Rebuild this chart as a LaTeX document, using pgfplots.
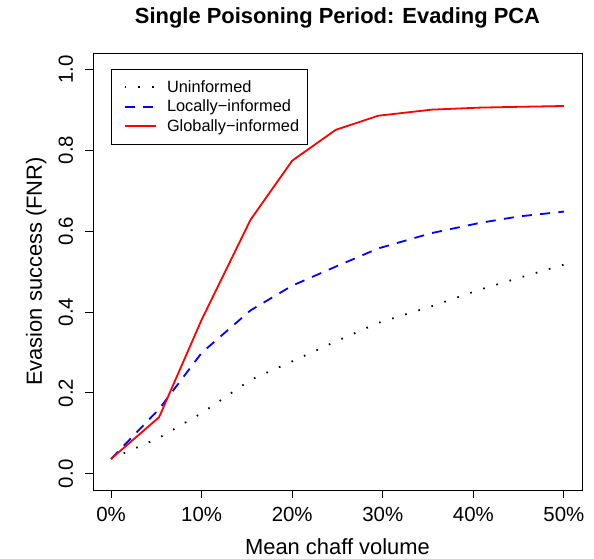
\documentclass[border=0pt]{standalone}
\usepackage{pgfplots}
\pgfplotsset{compat=1.18}
\usepackage{fontspec}
\setmainfont{Liberation Sans}

\begin{document}
\begin{tikzpicture}
\useasboundingbox (-93bp,-69bp) rectangle (501bp,490bp);
\begin{axis}[
    scale only axis,
    width=489bp, height=437bp,
    xmin=-2, xmax=52, ymin=-0.04, ymax=1.04,
    xtick={0,10,20,30,40,50},
    xticklabels={0\%,10\%,20\%,30\%,40\%,50\%},
    ytick={0,0.2,0.4,0.6,0.8,1.0},
    yticklabels={0.0,0.2,0.4,0.6,0.8,1.0},
    tick align=outside,
    major tick length=8bp,
    tick style={black, line width=0.9bp},
    axis line style={line width=0.9bp},
    xtick pos=bottom, ytick pos=left,
    ticklabel style={font=\fontsize{20.5}{24}\selectfont},
    xticklabel style={anchor=base, yshift=-23bp},
    yticklabel style={anchor=base, xshift=-12bp, rotate=90},
    title={Single Poisoning Period: Evading PCA},
    title style={font=\fontsize{22}{26}\selectfont\bfseries, at={(0.5,1)}, anchor=base, yshift=24bp},
    xlabel={Mean chaff volume},
    xlabel style={font=\fontsize{22}{26}\selectfont, at={(axis description cs:0.5,0)}, anchor=base, yshift=-64bp},
    ylabel={Evasion success (FNR)},
    ylabel style={font=\fontsize{22}{26}\selectfont, at={(axis description cs:-0.1043,0.5)}, anchor=base},
    legend cell align=left,
    legend style={at={(axis cs:0,1)}, anchor=north west, draw=black, line width=0.8bp,
        inner xsep=7bp, inner ysep=8bp, row sep=0pt,
        font=\fontsize{16.4}{19.7}\selectfont,
        nodes={inner sep=1.5bp, text height=13bp, text depth=3.5bp}},
    legend image code/.code={\path[draw=none] (0bp,0bp) -- (47bp,0bp); \draw[#1] (6bp,0bp) -- (37bp,0bp);},
]
\addplot[black, line width=1.8bp, dash pattern=on 1.6bp off 12.1bp] coordinates {
(0,0.037) (5.3,0.089) (10,0.150) (15.4,0.232) (20,0.278) (24.8,0.327)
(29.5,0.373) (35.4,0.414) (40.7,0.455) (45,0.484) (50,0.517)};
\addlegendentry{Uninformed}
\addplot[blue, line width=1.8bp, dash pattern=on 10bp off 8.3bp] coordinates {
(0,0.037) (5.3,0.160) (10,0.299) (15.4,0.404) (20,0.465) (24.8,0.512)
(29.5,0.557) (35.4,0.595) (40.7,0.620) (45,0.636) (50,0.648)};
\addlegendentry{Locally{\char"2212}informed}
\addplot[red, line width=1.8bp] coordinates {
(0,0.037) (5.3,0.140) (10,0.381) (15.4,0.628) (20,0.774) (24.8,0.850)
(29.5,0.885) (35.4,0.900) (40.7,0.905) (45,0.907) (50,0.909)};
\addlegendentry{Globally{\char"2212}informed}
\end{axis}
\end{tikzpicture}
\end{document}
